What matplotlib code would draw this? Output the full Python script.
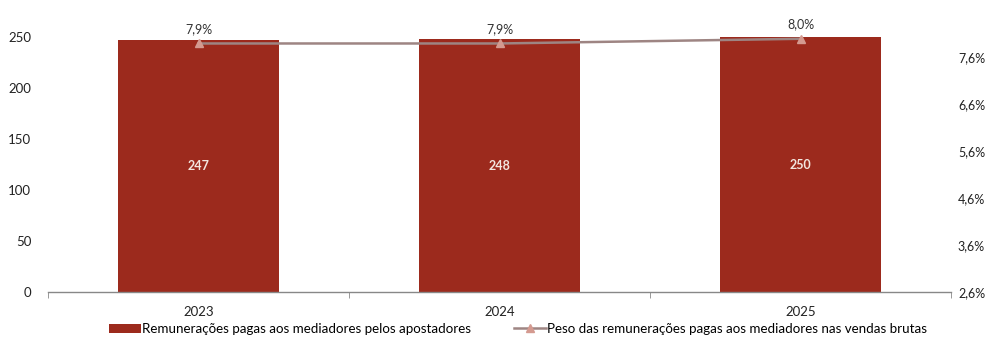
import matplotlib.pyplot as plt
import matplotlib.ticker as mticker

plt.rcParams['font.family'] = ['Lato', 'DejaVu Sans']

anos = ['2023', '2024', '2025']
remuneracoes = [247, 248, 250]
peso = [7.9, 7.9, 8.0]
peso_labels = ['7,9%', '7,9%', '8,0%']

bar_color = '#9c2a1d'
line_color = '#9e8583'

fig = plt.figure(figsize=(10, 3.47), dpi=100)
ax = fig.add_axes([0.048, 0.1585, 0.903, 0.755])
ax2 = ax.twinx()

x = list(range(len(anos)))
bars = ax.bar(x, remuneracoes, width=0.535, color=bar_color, zorder=2,
              label='Remunerações pagas aos mediadores pelos apostadores')
for xi, v in zip(x, remuneracoes):
    ax.text(xi, v / 2, str(v), ha='center', va='center', color='#f3e6df',
            fontsize=9, fontweight='bold')

ln, = ax2.plot(x, peso, color=line_color, lw=1.8, marker='^', markersize=6,
               markerfacecolor='#d49a90', markeredgecolor='#d49a90',
               label='Peso das remunerações pagas aos mediadores nas vendas brutas', zorder=3)
for xi, v, t in zip(x, peso, peso_labels):
    ax2.text(xi, v + 0.18, t, ha='center', va='bottom', color='#333333', fontsize=9)

ax.set_xlim(-0.5, 2.5)
ax.set_ylim(0, 257)
ax.set_yticks([0, 50, 100, 150, 200, 250])
ax2.set_ylim(2.6, 2.6 + 257 / 46.0)
ax2.set_yticks([2.6, 3.6, 4.6, 5.6, 6.6, 7.6])
ax2.yaxis.set_major_formatter(mticker.FuncFormatter(lambda v, p: f'{v:.1f}%'.replace('.', ',')))

ax.set_xticks(x)
ax.set_xticklabels(anos)
ax.set_xticks([-0.5, 0.5, 1.5, 2.5], minor=True)
ax.tick_params(axis='x', which='major', length=0, pad=10, labelsize=9.5, colors='#222222')
ax.tick_params(axis='x', which='minor', length=4, color='#888888')
ax.tick_params(axis='y', length=0, pad=12, labelsize=9.5, colors='#222222')
ax2.tick_params(axis='y', length=0, pad=5, labelsize=9, colors='#222222')

for a in (ax, ax2):
    for s in ('top', 'left', 'right', 'bottom'):
        a.spines[s].set_visible(False)
ax.spines['bottom'].set_visible(True)
ax.spines['bottom'].set_color('#888888')
ax.spines['bottom'].set_linewidth(1.0)

fig.legend(handles=[bars, ln], loc='lower center', bbox_to_anchor=(0.518, 0.0), ncol=2,
           frameon=False, fontsize=9.6, handlelength=2.4, handletextpad=0.1,
           columnspacing=3.2)

fig.savefig('out.png', dpi=100)
